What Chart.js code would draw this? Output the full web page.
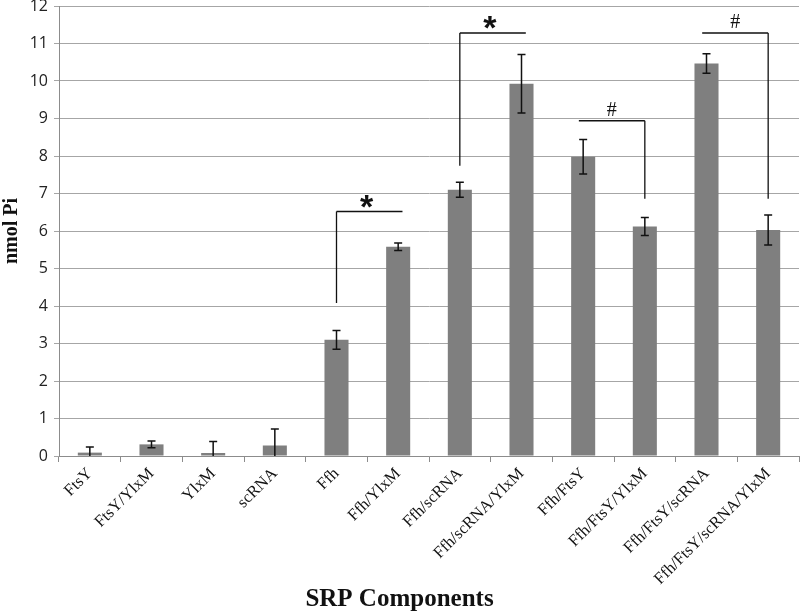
<!DOCTYPE html>
<html>
<head>
<meta charset="utf-8">
<script src="https://cdn.jsdelivr.net/npm/chart.js@4.4.1/dist/chart.umd.min.js"></script>
<style>
  html, body { margin: 0; padding: 0; background: #fff; }
  #wrap { width: 800px; height: 611px; }
</style>
</head>
<body>
<div id="wrap"><canvas id="barChart"></canvas></div>
<script>
const categories = ['FtsY', 'FtsY/YlxM', 'YlxM', 'scRNA', 'Ffh', 'Ffh/YlxM', 'Ffh/scRNA',
  'Ffh/scRNA/YlxM', 'Ffh/FtsY', 'Ffh/FtsY/YlxM', 'Ffh/FtsY/scRNA', 'Ffh/FtsY/scRNA/YlxM'];
const values = [0.09, 0.31, 0.08, 0.28, 3.1, 5.58, 7.1, 9.93, 7.98, 6.12, 10.47, 6.03];
const errors = [0.15, 0.09, 0.31, 0.44, 0.25, 0.1, 0.2, 0.78, 0.46, 0.24, 0.26, 0.4];

// significance brackets (category indices and values on the y scale)
const bracketFrom = [4, 6, 8, 10];
const bracketTo = [5, 7, 9, 11];
const bracketTop = [6.52, 11.28, 8.94, 11.28];
const bracketLegEnd = [4.08, 7.74, 6.86, 6.86];
const bracketLegSide = ['from', 'from', 'to', 'to'];
const bracketMarks = ['*', '*', '#', '#'];

const extras = {
  id: 'extras',
  afterDatasetsDraw(chart) {
    const ctx = chart.ctx;
    const x = chart.scales.x, y = chart.scales.y;
    const area = chart.chartArea;
    ctx.save();
    // error bars
    ctx.beginPath();
    ctx.rect(area.left, area.top, area.right - area.left, area.bottom - area.top);
    ctx.clip();
    ctx.strokeStyle = '#111';
    ctx.lineWidth = 1.5;
    values.forEach((v, i) => {
      const cx = x.getPixelForValue(i);
      const yt = y.getPixelForValue(v + errors[i]);
      const yb = y.getPixelForValue(v - errors[i]);
      ctx.beginPath();
      ctx.moveTo(cx, yt); ctx.lineTo(cx, yb);
      ctx.moveTo(cx - 4, yt); ctx.lineTo(cx + 4, yt);
      ctx.moveTo(cx - 4, yb); ctx.lineTo(cx + 4, yb);
      ctx.stroke();
    });
    ctx.restore();

    // brackets
    ctx.save();
    ctx.strokeStyle = '#111';
    ctx.lineWidth = 1.3;
    ctx.fillStyle = '#111';
    ctx.textAlign = 'center';
    ctx.textBaseline = 'alphabetic';
    const step = x.getPixelForValue(1) - x.getPixelForValue(0);
    bracketFrom.forEach((f, k) => {
      let x1 = x.getPixelForValue(f);
      let x2 = x.getPixelForValue(bracketTo[k]);
      const yTop = y.getPixelForValue(bracketTop[k]);
      const yLeg = y.getPixelForValue(bracketLegEnd[k]);
      const legX = bracketLegSide[k] === 'from' ? x1 : x2;
      if (bracketLegSide[k] === 'from') x2 += step * 0.07; else x1 -= step * 0.07;
      ctx.beginPath();
      ctx.moveTo(x1, yTop); ctx.lineTo(x2, yTop);
      ctx.moveTo(legX, yTop); ctx.lineTo(legX, yLeg);
      ctx.stroke();
      if (bracketMarks[k] === '*') {
        ctx.font = 'bold 34px "Liberation Sans"';
        ctx.fillText('*', (x1 + x2) / 2 - 3, yTop + 6);
      } else {
        ctx.font = '20px "Liberation Serif"';
        ctx.fillText('#', (x1 + x2) / 2, yTop - 5);
      }
    });
    ctx.restore();
  }
};

new Chart(document.getElementById('barChart'), {
  type: 'bar',
  data: {
    labels: categories,
    datasets: [{
      data: values,
      backgroundColor: '#7f7f7f',
      barPercentage: 0.39,
      categoryPercentage: 1.0
    }]
  },
  options: {
    responsive: true,
    maintainAspectRatio: false,
    animation: false,
    layout: { padding: { top: 0, right: 1, left: 0, bottom: 0 } },
    plugins: {
      legend: { display: false },
      tooltip: { enabled: false },
      title: {
        display: true,
        position: 'bottom',
        text: 'SRP Components',
        color: '#111',
        font: { family: '"Liberation Serif"', size: 25, weight: 'bold' },
        padding: { top: -2, bottom: -4 }
      }
    },
    scales: {
      x: {
        offset: true,
        grid: { display: true, drawOnChartArea: false, offset: true, tickLength: 6, color: '#8c8c8c' },
        border: { color: '#8c8c8c', width: 1 },
        ticks: {
          color: '#111',
          font: { family: '"Liberation Serif"', size: 16.5 },
          maxRotation: 45, minRotation: 45, autoSkip: false, padding: 2
        },
        afterFit(scale) { scale.height = 131; }
      },
      y: {
        min: 0, max: 12,
        ticks: { stepSize: 1, color: '#222', font: { family: '"Open Sans"', size: 16 }, padding: 6 },
        grid: { color: '#a6a6a6', tickLength: 5, lineWidth: 1 },
        border: { color: '#8c8c8c', width: 1 },
        title: {
          display: true,
          text: 'nmol Pi',
          color: '#111',
          font: { family: '"Liberation Serif"', size: 20, weight: 'bold' },
          padding: { top: 0, bottom: 4 }
        },
        afterFit(scale) { scale.width = 59; scale.paddingTop = 6; }
      }
    }
  },
  plugins: [extras]
});
</script>
</body>
</html>
